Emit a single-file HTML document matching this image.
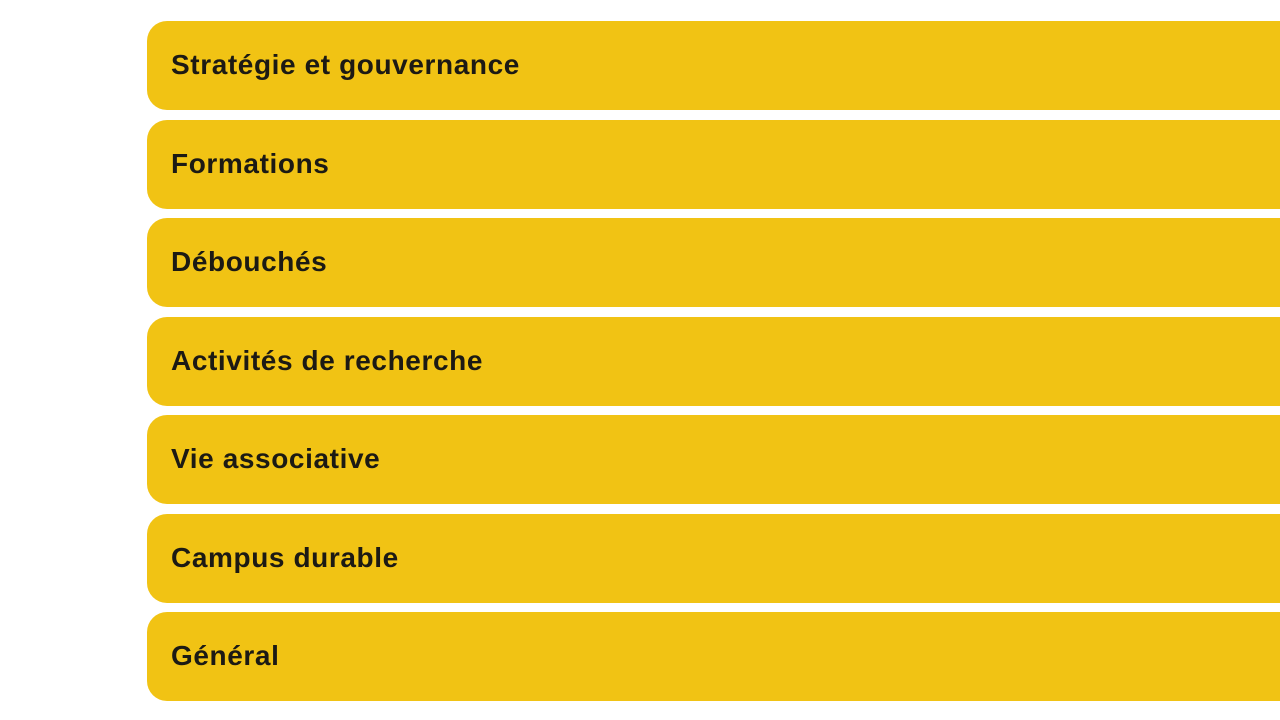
<!DOCTYPE html>
<html><head><meta charset="utf-8"><style>
html,body{margin:0;padding:0;background:#fff;width:1280px;height:720px;overflow:hidden}
.r{position:absolute;left:147px;width:1200px;height:89px;background:#F1C314;border-radius:20px;
font-family:"Liberation Sans",sans-serif;font-weight:bold;font-size:28px;color:#1c1a14;
line-height:87px;padding-left:24px;box-sizing:border-box;letter-spacing:0.6px}
</style></head><body>
<div class="r" style="top:21px">Stratégie et gouvernance</div>
<div class="r" style="top:120px">Formations</div>
<div class="r" style="top:218px">Débouchés</div>
<div class="r" style="top:317px">Activités de recherche</div>
<div class="r" style="top:415px">Vie associative</div>
<div class="r" style="top:514px">Campus durable</div>
<div class="r" style="top:612px">Général</div>
</body></html>
